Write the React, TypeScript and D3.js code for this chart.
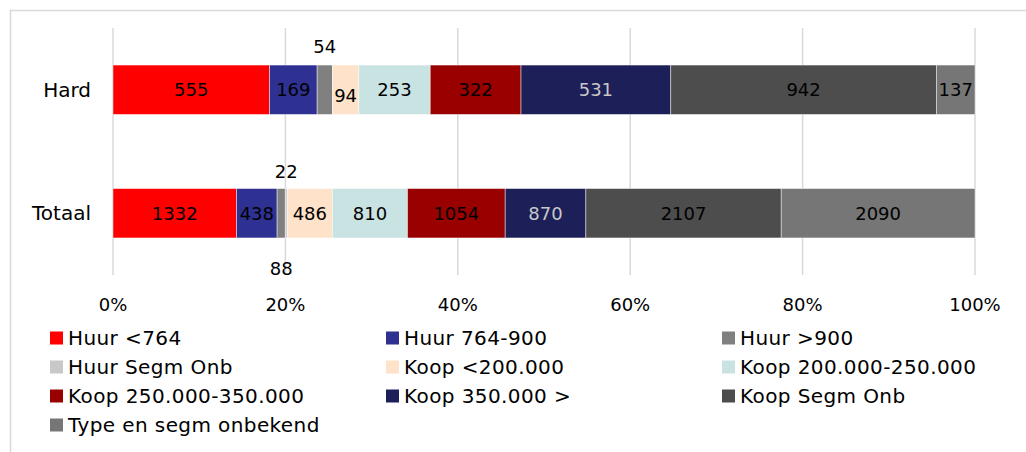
import React from "react";
import * as d3 from "d3";

const categories = ["Hard", "Totaal"];
const seriesNames = [
  "Huur <764",
  "Huur 764-900",
  "Huur >900",
  "Huur Segm Onb",
  "Koop <200.000",
  "Koop 200.000-250.000",
  "Koop 250.000-350.000",
  "Koop 350.000 >",
  "Koop Segm Onb",
  "Type en segm onbekend",
];
const hardValues = [555, 169, 54, 0, 94, 253, 322, 531, 942, 137];
const totaalValues = [1332, 438, 88, 22, 486, 810, 1054, 870, 2107, 2090];
const seriesColors = [
  "#FF0000",
  "#2E3192",
  "#808080",
  "#C8C8C8",
  "#FFE2CA",
  "#C9E3E2",
  "#990000",
  "#1C1F58",
  "#4D4D4D",
  "#767676",
];
const labelColors = ["#000", "#000", "#000", "#000", "#000", "#000", "#000", "#C8C8C8", "#000", "#000"];
const ticks = [0, 0.2, 0.4, 0.6, 0.8, 1];

const W = 1026;
const H = 452;
const FONT = "'DejaVu Sans', sans-serif";

export default function App() {
  const x = d3.scaleLinear().domain([0, 1]).range([113, 975]);
  const y = d3.scaleBand().domain(categories).range([28, 275]).paddingInner(0.6).paddingOuter(0.3);
  const valuesByCat: Record<string, number[]> = { Hard: hardValues, Totaal: totaalValues };

  const rows = categories.map((cat) => {
    const vals = valuesByCat[cat];
    const total = d3.sum(vals);
    let acc = 0;
    const segs = vals.map((v, i) => {
      const s = { i, v, x0: acc / total, x1: (acc + v) / total };
      acc += v;
      return s;
    });
    return { cat, segs };
  });

  // label placement adjustments for small segments (as in reference)
  const labelOffset = (cat: string, i: number, y0: number, bw: number) => {
    const cy = y0 + bw / 2;
    if (cat === "Hard" && i === 2) return cy - 43;
    if (cat === "Hard" && i === 4) return cy + 6;
    if (cat === "Totaal" && i === 3) return cy - 42;
    if (cat === "Totaal" && i === 2) return cy + 55;
    return cy;
  };

  const legendCols = [50, 386, 722];
  const legendRows = [338, 367, 396, 425];

  return (
    <svg width={W} height={H} style={{ position: "absolute", left: 0, top: 0 }} fontFamily={FONT}>
      <rect x={0} y={0} width={W} height={H} fill="#fff" />
      <rect x={10.5} y={10.5} width={W + 20} height={H + 20} fill="#fff" stroke="#D9D9D9" strokeWidth={1.5} />
      {ticks.map((t) => (
        <line key={t} x1={x(t)} x2={x(t)} y1={28} y2={275} stroke="#D9D9D9" strokeWidth={1.5} />
      ))}
      {rows.map((r) => {
        const y0 = y(r.cat)!;
        const bw = y.bandwidth();
        return (
          <g key={r.cat}>
            {r.segs.map((s) =>
              s.v > 0 ? (
                <rect
                  key={s.i}
                  x={x(s.x0)}
                  y={y0}
                  width={x(s.x1) - x(s.x0)}
                  height={bw}
                  fill={seriesColors[s.i]}
                  stroke="#fff"
                  strokeOpacity={0.6}
                  strokeWidth={0.75}
                />
              ) : null
            )}
            {r.segs.map((s) =>
              s.v > 0 ? (
                <text
                  key={"l" + s.i}
                  x={(x(s.x0) + x(s.x1)) / 2}
                  y={labelOffset(r.cat, s.i, y0, bw)}
                  dy="0.35em"
                  textAnchor="middle"
                  fontSize={18}
                  fill={labelColors[s.i]}
                >
                  {s.v}
                </text>
              ) : null
            )}
            <text x={91} y={y0 + bw / 2} dy="0.35em" textAnchor="end" fontSize={20} fill="#000">
              {r.cat}
            </text>
          </g>
        );
      })}
      {ticks.map((t) => (
        <text key={"t" + t} x={x(t)} y={305} dy="0.35em" textAnchor="middle" fontSize={18} fill="#000">
          {d3.format(".0%")(t)}
        </text>
      ))}
      {seriesNames.map((name, i) => {
        const cx = legendCols[i % 3];
        const cy = legendRows[Math.floor(i / 3)];
        return (
          <g key={name}>
            <rect x={cx} y={cy - 6.5} width={13} height={13} fill={seriesColors[i]} />
            <text x={cx + 18} y={cy} dy="0.35em" fontSize={20} letterSpacing={0.4} fill="#000">
              {name}
            </text>
          </g>
        );
      })}
    </svg>
  );
}
